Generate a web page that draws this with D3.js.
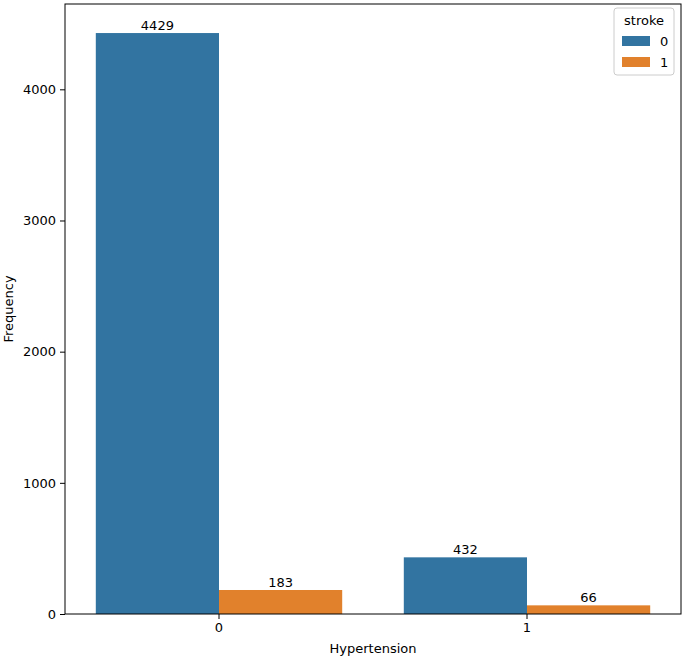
<!DOCTYPE html>
<html><head><meta charset="utf-8">
<script src="https://cdn.jsdelivr.net/npm/d3@7"></script>
<style>body{margin:0;background:#fff}text{font-family:"DejaVu Sans",sans-serif}</style>
</head><body><svg id="c" width="685" height="660"></svg>
<script>
const categories = ["0","1"];
const strokeGroups = ["0","1"];
const stroke0 = [4429, 432];
const stroke1 = [183, 66];
const yTicks = [0,1000,2000,3000,4000];
const colors = ["#3274a1","#e1812c"];

const svg = d3.select("#c");
const L=65,R=681,T=4,B=614;
const x = d3.scaleBand().domain(categories).range([L,R]);
const xs = d3.scaleBand().domain(strokeGroups).range([0,x.bandwidth()]).paddingOuter(0.125*1.25);
const xi = d3.scaleBand().domain(strokeGroups).range([x.bandwidth()*0.1, x.bandwidth()*0.9]);
const y = d3.scaleLinear().domain([0,4429*1.05]).range([B,T]);

const series=[stroke0,stroke1];
strokeGroups.forEach((s,si)=>{
  const g=svg.append("g");
  categories.forEach((c,ci)=>{
    const v=series[si][ci];
    g.append("rect").attr("x",x(c)+xi(s)).attr("width",xi.bandwidth())
     .attr("y",y(v)).attr("height",B-y(v)).attr("fill",colors[si]);
    g.append("text").attr("x",x(c)+xi(s)+xi.bandwidth()/2).attr("y",y(v)-3)
     .attr("text-anchor","middle").attr("font-size",13).text(v);
  });
});

const ya=svg.append("g").attr("transform",`translate(${L},0)`)
  .call(d3.axisLeft(y).tickValues(yTicks).tickSize(5).tickPadding(4).tickFormat(d3.format("d")));
const xa=svg.append("g").attr("transform",`translate(0,${B})`)
  .call(d3.axisBottom(x).tickSize(5).tickPadding(4));
[ya,xa].forEach(a=>{a.select(".domain").remove();a.selectAll("text").attr("font-size",13).attr("fill","#000").style("font-family","DejaVu Sans");a.selectAll("line").attr("stroke","#000");});
svg.append("rect").attr("x",L).attr("y",T).attr("width",R-L).attr("height",B-T).attr("fill","none").attr("stroke","#000").attr("stroke-width",1);

svg.append("text").attr("transform",`translate(13,${(T+B)/2}) rotate(-90)`).attr("text-anchor","middle").attr("font-size",13).text("Frequency");
svg.append("text").attr("x",(L+R)/2).attr("y",653).attr("text-anchor","middle").attr("font-size",13).text("Hypertension");

const lg=svg.append("g");
lg.append("rect").attr("x",614).attr("y",8).attr("width",60).attr("height",67).attr("rx",3).attr("fill","#fff").attr("stroke","#ccc");
lg.append("text").attr("x",644).attr("y",25).attr("text-anchor","middle").attr("font-size",13).text("stroke");
strokeGroups.forEach((s,i)=>{
  lg.append("rect").attr("x",622).attr("y",36+i*21).attr("width",28).attr("height",10).attr("fill",colors[i]);
  lg.append("text").attr("x",660).attr("y",46+i*21).attr("font-size",13).text(s);
});
</script></body></html>
